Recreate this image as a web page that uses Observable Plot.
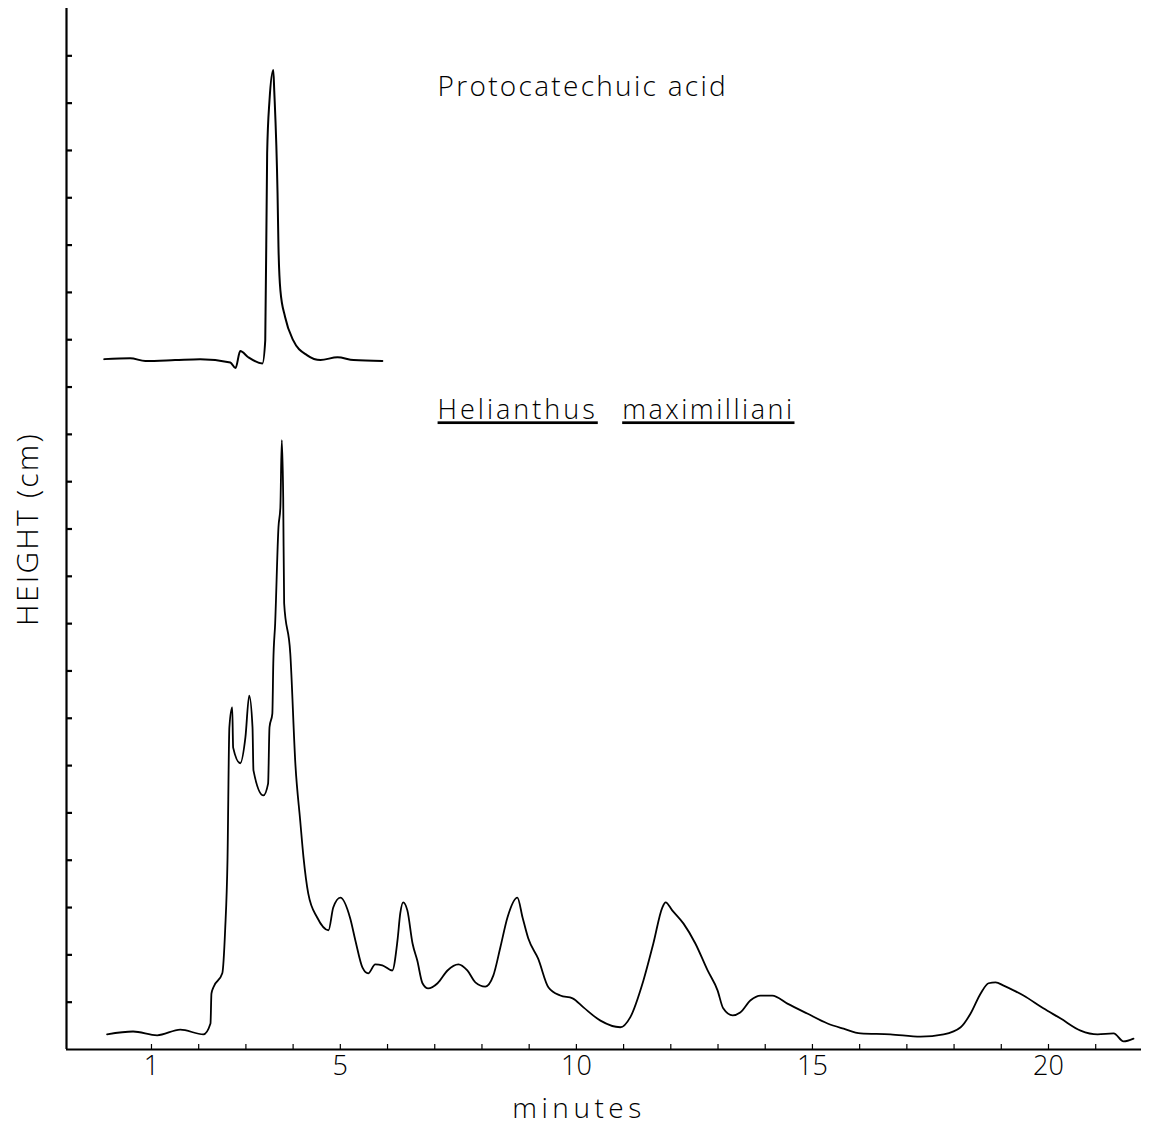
<!DOCTYPE html>
<html><head><meta charset="utf-8">
<script src="https://cdn.jsdelivr.net/npm/d3@7"></script>
<script src="https://cdn.jsdelivr.net/npm/@observablehq/plot@0.6"></script>
<style>
html,body{margin:0;padding:0;background:#fff;color:#000;}
</style>
</head><body><div id="chart"></div>
<script>
// Protocatechuic acid standard trace (minutes, height cm)
const standardMinutes = [0, 0.55, 0.87, 1.50, 2.03, 2.67, 2.78, 2.88, 3.05, 3.35, 3.41, 3.45, 3.50, 3.58, 3.60, 3.67, 3.69, 3.73, 3.83, 4.00, 4.30, 4.58, 4.94, 5.28, 5.89];
const standardHeight  = [14.59, 14.61, 14.55, 14.57, 14.59, 14.52, 14.40, 14.76, 14.63, 14.50, 14.99, 18.94, 20.06, 20.70, 20.27, 18.10, 16.96, 16.05, 15.48, 14.99, 14.67, 14.57, 14.63, 14.57, 14.55];

// Helianthus maximilliani extract trace
const sampleMinutes = [0.06,0.61,1.12,1.61,2.10,2.25,2.27,2.31,2.50,2.56,2.61,2.65,2.71,2.73,2.88,2.99,3.07,3.14,3.16,3.37,3.47,3.50,3.56,3.58,3.62,3.69,3.73,3.76,3.79,3.81,3.94,4.05,4.15,4.22,4.32,4.51,4.75,4.85,5.00,5.21,5.32,5.47,5.59,5.74,5.89,6.10,6.21,6.27,6.33,6.42,6.53,6.63,6.74,6.86,7.06,7.27,7.50,7.69,7.86,8.07,8.24,8.39,8.54,8.75,8.86,8.98,9.19,9.41,9.66,9.92,10.15,10.51,10.93,11.14,11.42,11.63,11.82,11.89,12.03,12.27,12.52,12.78,12.99,13.11,13.31,13.47,13.69,13.90,14.15,14.47,14.89,15.32,15.66,16.02,16.65,17.29,17.78,18.14,18.35,18.56,18.73,18.88,19.05,19.26,19.47,19.89,20.25,20.68,21.04,21.38,21.59,21.80];
const sampleHeight  = [0.32,0.38,0.30,0.42,0.32,0.55,1.18,1.31,1.61,2.52,4.00,6.81,7.23,6.38,6.05,6.60,7.48,6.81,5.90,5.37,5.62,6.81,7.10,8.16,9.01,11.04,11.46,12.88,11.67,9.43,8.37,6.00,4.84,4.06,3.30,2.79,2.52,3.00,3.21,2.77,2.30,1.73,1.61,1.80,1.78,1.67,2.30,2.88,3.11,2.94,2.24,1.88,1.40,1.29,1.40,1.67,1.80,1.67,1.42,1.33,1.56,2.16,2.79,3.21,2.79,2.35,1.92,1.31,1.14,1.08,0.89,0.61,0.47,0.68,1.46,2.24,3.00,3.11,2.94,2.66,2.24,1.67,1.25,0.87,0.72,0.78,1.04,1.14,1.14,0.97,0.76,0.55,0.44,0.34,0.32,0.27,0.32,0.47,0.76,1.18,1.40,1.42,1.35,1.25,1.14,0.87,0.66,0.40,0.32,0.34,0.17,0.23];

const xMinorTicks = d3.range(1, 22);
const xTickLabels = [1, 5, 10, 15, 20];
const yTicks = d3.range(1, 22);
const xDomain = [-0.80, 21.97];
const yDomain = [0, 22];

const standardTitle = ["Protocatechuic acid"];
const speciesGenus = ["Helianthus"];
const speciesEpithet = ["maximilliani"];
const yLabel = ["HEIGHT (cm)"];
const xLabel = ["minutes"];

const standard = standardMinutes.map((m, i) => ({m, h: standardHeight[i]}));
const sample = sampleMinutes.map((m, i) => ({m, h: sampleHeight[i]}));

const FONT = "'Open Sans', 'DejaVu Sans', sans-serif";

const chart = Plot.plot({
  width: 1149,
  height: 1130,
  marginLeft: 66,
  marginRight: 8,
  marginTop: 8,
  marginBottom: 81,
  style: {fontFamily: FONT, background: "#fff", color: "#000"},
  x: {domain: xDomain, axis: null},
  y: {domain: yDomain, axis: null},
  marks: [
    Plot.ruleX([xDomain[0]], {stroke: "#000", strokeWidth: 2.2}),
    Plot.ruleY([0], {stroke: "#000", strokeWidth: 2.2}),
    Plot.axisY({ticks: yTicks, tickSize: -6, strokeWidth: 2.2, tickFormat: () => "", label: null}),
    Plot.axisX({ticks: xMinorTicks, tickSize: -5, strokeWidth: 1.2, tickFormat: () => "", label: null}),
    Plot.axisX({ticks: xTickLabels, tickSize: 0, tickPadding: 6, fontSize: 27, fontWeight: 300, label: null}),
    Plot.line(standard, {x: "m", y: "h", curve: "monotone-x", stroke: "#000", strokeWidth: 2}),
    Plot.line(sample, {x: "m", y: "h", curve: "monotone-x", stroke: "#000", strokeWidth: 1.8}),
    Plot.text(standardTitle, {x: 7.06, y: 20.34, text: d => d, textAnchor: "start", lineAnchor: "middle", fontSize: 28, fontWeight: 300}),
    Plot.text(speciesGenus, {x: 7.06, y: 13.5, text: d => d, textAnchor: "start", lineAnchor: "middle", fontSize: 27, fontWeight: 300}),
    Plot.text(speciesEpithet, {x: 10.97, y: 13.5, text: d => d, textAnchor: "start", lineAnchor: "middle", fontSize: 27, fontWeight: 300}),
    Plot.text(yLabel, {frameAnchor: "left", rotate: -90, dx: -38, textAnchor: "middle", lineAnchor: "middle", text: d => d, fontSize: 30, fontWeight: 300}),
    Plot.text(xLabel, {frameAnchor: "bottom", dx: -25, dy: 60, textAnchor: "middle", lineAnchor: "middle", text: d => d, fontSize: 28, fontWeight: 300})
  ]
});

const spacing = {
  "Protocatechuic acid": "2.3px",
  "Helianthus": "3px",
  "maximilliani": "2.5px",
  "HEIGHT (cm)": "2.2px",
  "minutes": "4.5px"
};
d3.select(chart).selectAll("text").each(function() {
  const t = this.textContent;
  if (spacing[t]) this.style.letterSpacing = spacing[t];
  if (t === "Helianthus" || t === "maximilliani") this.style.textDecoration = "underline";
});

document.getElementById("chart").appendChild(chart);
</script>
</body></html>
